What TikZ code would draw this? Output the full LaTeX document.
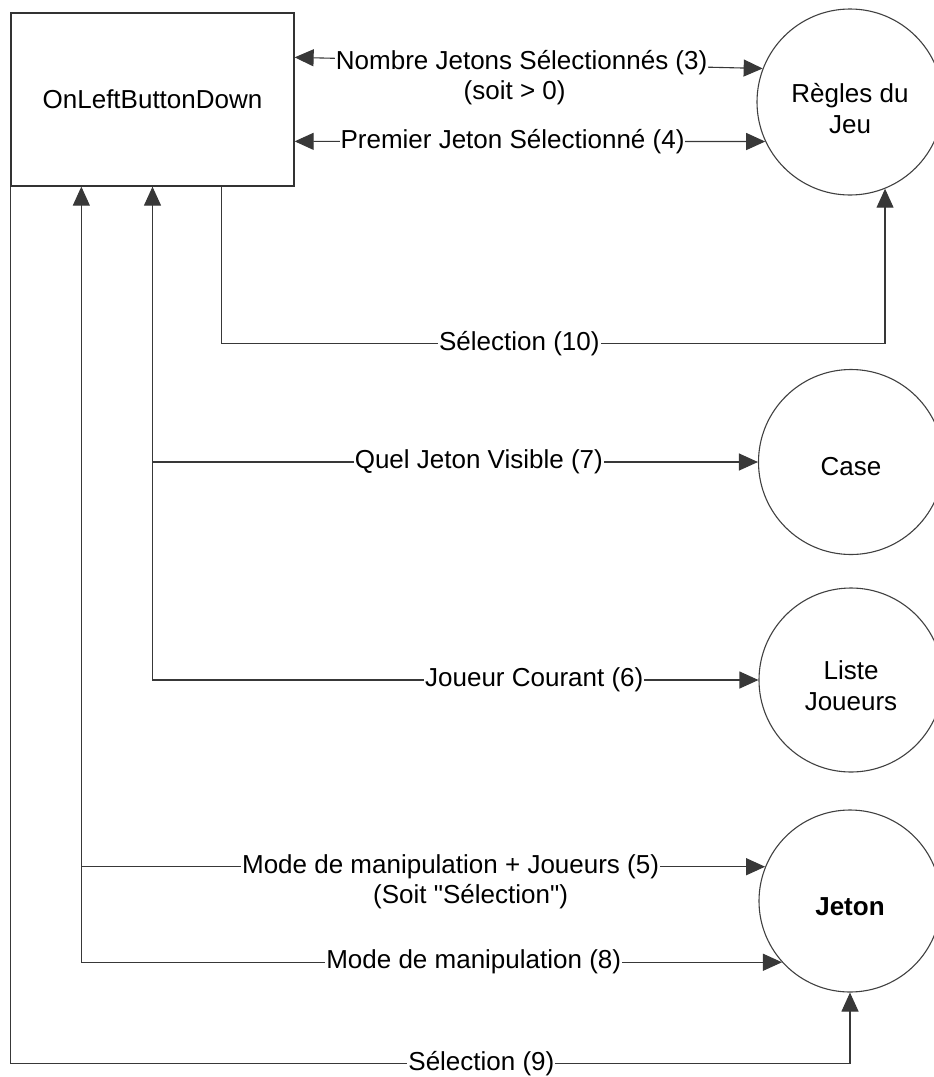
\documentclass[tikz,border=0pt]{standalone}
\usepackage{fontspec}
\setmainfont{Liberation Sans}
\newfontfamily\rawfont{Liberation Sans}[Ligatures=TeXOff]
\usetikzlibrary{arrows.meta,calc}

\begin{document}
\begin{tikzpicture}[
  x=1pt, y=-1pt,
  every node/.append style={font=\fontsize{26pt}{31pt}\selectfont},
  >={Triangle[length=19pt,width=17pt]},
  flow/.style={draw=black!78, line width=1.1pt},
  procbox/.style={draw=black!80, line width=1.3pt, minimum width=283pt, minimum height=173pt, inner sep=0pt},
  store/.style={circle, draw=black!75, line width=1.1pt, inner sep=0pt},
  lbl/.style={fill=white, inner sep=1pt},
]
\useasboundingbox (0,0) rectangle (934,1077);

% process box and data stores
\node[procbox] (box) at (152.5,99.5) {OnLeftButtonDown};
\node[store, minimum size=186pt, label={[yshift=-7pt, align=center]center:Règles du\\Jeu}] (regles) at (850,102) {};
\node[store, minimum size=185pt, label={[yshift=-5pt]center:Case}] (case) at (851,462) {};
\node[store, minimum size=184pt, label={[yshift=-6pt, align=center]center:Liste\\Joueurs}] (liste) at (851,680) {};
\node[store, minimum size=182pt, label={[yshift=-6pt]center:\textbf{Jeton}}] (jeton) at (850,901) {};

% tap points on the box
\coordinate (p3) at ($(box.north east)+(0,45)$);
\coordinate (p4) at ($(box.north east)+(0,129)$);
\coordinate (tapA) at ($(box.south west)+(71,0)$);
\coordinate (tapB) at (box.south);
\coordinate (tapC) at ($(box.south west)+(211,0)$);

% exchanges with Règles du Jeu
\draw[flow, <->] (p3) -- node[lbl, pos=.485, label={[xshift=-7pt]below:(soit > 0)}] {Nombre Jetons Sélectionnés (3)} (regles.159.2);
\draw[flow, <->] (p4) -- node[lbl, pos=.463] {Premier Jeton Sélectionné (4)} (regles.205.5);
\draw[flow, ->] (tapC) -- ++(0,157) coordinate (k10)
  -- node[lbl, pos=.449] {Sélection (10)} (k10 -| regles.292.7) -- (regles.292.7);

% exchanges with Case and Liste Joueurs
\draw[flow, <->] (tapB) -- (tapB |- liste.180) -- node[lbl, pos=.63] {Joueur Courant (6)} (liste.180);
\draw[flow, ->] (tapB |- case.180) -- node[lbl, pos=.539] {Quel Jeton Visible (7)} (case.180);

% exchanges with Jeton
\draw[flow, <->] (tapA) -- (tapA |- jeton.222.9) -- node[lbl, pos=.56] {Mode de manipulation (8)} (jeton.222.9);
\draw[flow, ->] (tapA |- jeton.158.1) -- node[lbl, pos=.54, label={[xshift=20pt]below:{\rawfont(Soit "Sélection")}}] {Mode de manipulation + Joueurs (5)} (jeton.158.1);
\draw[flow, ->] (box.south west) -- ++(0,877) coordinate (k9)
  -- node[lbl, pos=.561] {Sélection (9)} (k9 -| jeton.south) -- (jeton.south);
\end{tikzpicture}
\end{document}
